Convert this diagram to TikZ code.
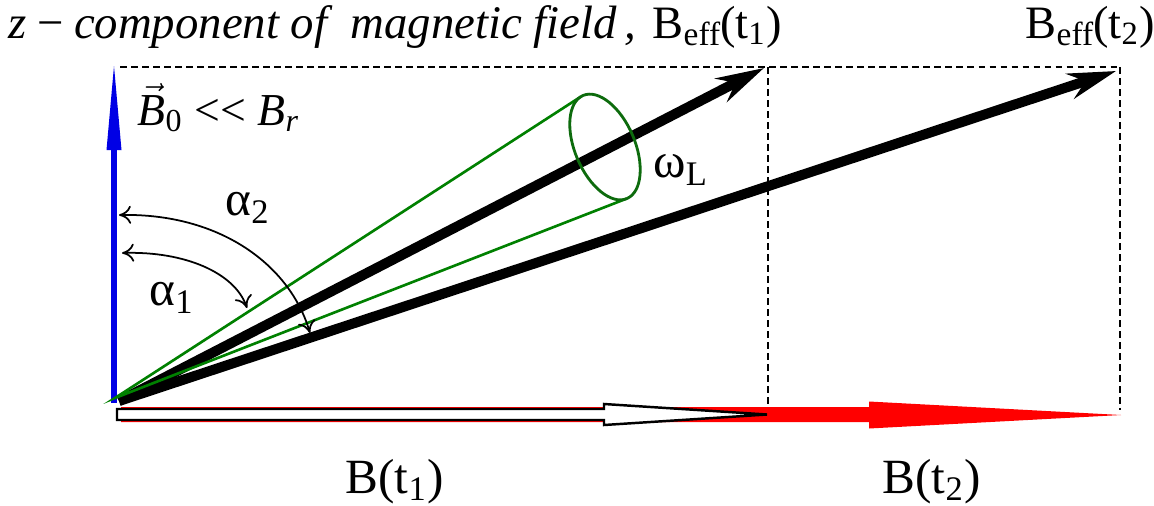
\documentclass[tikz,border=0pt]{standalone}
\usepackage{fontspec}
\setmainfont{Liberation Serif}
\usepackage{amsmath}
\usepackage{tikz}
\usetikzlibrary{arrows.meta}
\definecolor{conegreen}{rgb}{0.00,0.50,0.00}
\definecolor{ringgreen}{rgb}{0.05,0.42,0.05}
\definecolor{bzblue}{rgb}{0.00,0.00,0.90}
\newcommand{\lowsub}[1]{\raisebox{-0.35ex}{\fontsize{9.5}{10}\selectfont #1}}

\begin{document}
\begin{tikzpicture}[x=0.01cm,y=0.01cm,
    bigarrow/.style={line width=0.1cm,-{Stealth[length=0.48cm,width=0.26cm,inset=0.16cm]}},
    guide/.style={dash pattern=on 0.065cm off 0.045cm,line width=0.5pt},
    anglearc/.style={line width=0.5pt,{To[length=0.12cm,width=0.18cm]}-{To[length=0.12cm,width=0.18cm]}},
    toplbl/.style={font=\fontsize{13.2}{15}\selectfont,inner sep=0pt,anchor=base west},
    botlbl/.style={font=\fontsize{14}{16}\selectfont,inner sep=0pt,anchor=base west},
    greek/.style={font=\fontsize{14}{16}\selectfont,inner sep=0pt}]
  \useasboundingbox (0,0) rectangle (1154,505);
  % points
  \coordinate (O) at (114,102);
  \coordinate (Bz) at (114,355);
  \coordinate (S) at (119,104);
  \coordinate (T1) at (764,437);
  \coordinate (T2) at (1116,434);
  \coordinate (A) at (115,107);
  \coordinate (C) at (605,358);
  \coordinate (G1) at (580.6,408.2);
  \coordinate (G2) at (626.4,306.3);
  \coordinate (D0) at (120,438);
  \coordinate (D1) at (768,438);
  \coordinate (D2) at (1120,438);
  \coordinate (E1) at (768,95);
  \coordinate (E2) at (1120,95);
  \coordinate (a2s) at (119,290);
  \coordinate (a2e) at (310,172);
  \coordinate (a1s) at (122,252);
  \coordinate (a1e) at (247,197);
  % dashed box
  \draw[guide] (D0) -- (D2);
  \draw[guide] (D1) -- (E1);
  \draw[guide] (D2) -- (E2);
  % B(t2) and B(t1)
  \fill[red] (121,83) -- (869,83) -- (869,76.5) -- (1121,90) -- (869,103.5)
    -- (869,98) -- (121,98) -- cycle;
  \filldraw[fill=white,draw=black,line width=0.7pt] (117,85) -- (604,85) -- (604,80)
    -- (767,90.5) -- (604,101) -- (604,96) -- (117,96) -- cycle;
  % B0
  \draw[bzblue,line width=1.7pt] (O) -- (Bz);
  \fill[bzblue] (106.5,355) -- (114,439) -- (121.5,355) -- cycle;
  % Beff
  \draw[bigarrow] (S) -- (T1);
  \draw[bigarrow] (S) -- (T2);
  % precession cone
  \draw[conegreen,line width=0.75pt] (G1) -- (A) -- (G2);
  \draw[ringgreen,line width=0.8pt] (C) ellipse [x radius=30,y radius=56,rotate=23];
  % angles
  \draw[anglearc] (a2s) .. controls (220,292) and (290,240) .. (a2e);
  \draw[anglearc] (a1s) .. controls (185,254) and (235,232) .. (a1e);
  % labels
  \node[toplbl,font=\fontsize{13.3}{15}\selectfont] (title) at (8,467)
    {\textit{z\,−\,component of\ \ magnetic field\,,}};
  \node[toplbl] (beff1) at (652,467) {B\lowsub{eff}(t\textsubscript{1})};
  \node[toplbl] (beff2) at (1025,467) {B\lowsub{eff}(t\textsubscript{2})};
  \node[toplbl,font=\fontsize{13}{15}\selectfont] (b0) at (137,380)
    {$\vec{\textit{B}}_{\textrm{0}}$ <{}< \textit{B}\textsubscript{\textit{r}}};
  \node[greek] (omega) at (681,335) {ω\textsubscript{L}};
  \node[greek] (alpha2) at (248,297) {α\textsubscript{2}};
  \node[greek] (alpha1) at (172,207) {α\textsubscript{1}};
  \node[botlbl] (bt1) at (345,12) {B(t\textsubscript{1})};
  \node[botlbl] (bt2) at (882,12) {B(t\textsubscript{2})};
\end{tikzpicture}
\end{document}
